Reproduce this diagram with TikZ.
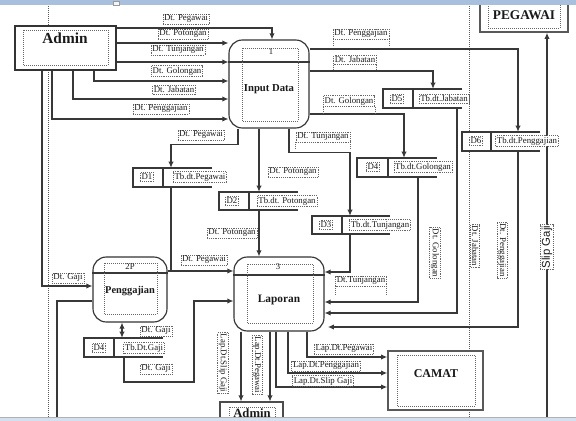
\documentclass[tikz,border=0pt]{standalone}
\usepackage{fontspec}
\setmainfont{Liberation Serif}
\newfontfamily\sansf{Liberation Sans}
\usetikzlibrary{arrows.meta,fit}
\definecolor{rulertop}{RGB}{168,192,222}
\definecolor{rulerbot}{RGB}{212,224,240}
\newcommand\dstore[6]{%
  \node[fit={(#2,#4) (#3,#5)}, inner sep=0pt, fill=white] (#1) {};
  \draw[ln] (#3,#4) -- (#2,#4) -- (#2,#5) -- (#3,#5) (#6,#4) -- (#6,#5);}
\begin{document}
\begin{tikzpicture}[x=0.75pt,y=-0.75pt,
  ln/.style={draw=black!78, line width=0.85pt},
  arr/.style={ln, -{Latex[length=4.5pt,width=4pt]}},
  darr/.style={ln, {Latex[length=4.5pt,width=4pt]}-{Latex[length=4.5pt,width=4pt]}},
  guide/.style={draw=black!65, densely dotted, line width=0.5pt},
  inbox/.style={draw=black!60, densely dotted, line width=0.5pt},
  lab/.style={draw=black!60, densely dotted, line width=0.4pt, fill=white, inner sep=1pt, font=\fontsize{6.6}{7}\selectfont, text=black!90},
  title/.style={inner sep=0pt, text=black!90},
  proc/.style={draw=black!80, line width=0.85pt, fill=white, rounded corners=10pt, inner sep=0pt},
  ent/.style={draw=black!80, line width=0.9pt, fill=white, inner sep=0pt}]
\useasboundingbox (0,0) rectangle (576,421);
\fill[white] (0,0) rectangle (576,421);
% guides
\draw[guide] (48,6) -- (48,417);
\draw[guide] (469,6) -- (469,417);
% entities
\node[ent, fit={(15,26) (116,70)}] (admin) {};
\draw[inbox] (23,30) rectangle (108,65);
\node[title, font=\fontsize{11.5}{12}\bfseries] (adminT) at (65,38) {Admin};
\node[ent, line width=1.2pt, draw=black!65, fit={(480,1) (568,32)}] (peg) {};
\draw[inbox] (488,4) rectangle (560,28);
\node[title, font=\fontsize{10}{11}\bfseries] (pegT) at (524,15) {PEGAWAI};
\node[ent, line width=1.2pt, draw=black!65, fit={(388,351) (483,410)}] (camat) {};
\draw[inbox] (397,355) rectangle (475,406);
\node[title, font=\fontsize{9}{10}\bfseries] (camatT) at (436,374) {CAMAT};
\node[ent, line width=0.8pt, draw=black!70, fit={(220,402) (283,430)}] (admin2) {};
\draw[inbox] (229,407) rectangle (275,430);
\node[title, font=\fontsize{9.5}{10}\bfseries] (admin2T) at (252,413) {Admin};
% processes
\node[proc, fit={(229,40) (309,128)}] (input) {};
\draw[ln] (input.west |- 0,62) -- (input.east |- 0,62);
\draw[inbox] (242,48) rectangle (298,121);
\node[title, font=\fontsize{6.5}{7}\selectfont] (inputN) at (271,52) {1};
\node[title, font=\fontsize{8}{9}\bfseries] (inputT) at (269,89) {Input Data};
\node[proc, fit={(234,257) (324,331)}] (lap) {};
\draw[ln] (lap.west |- 0,275) -- (lap.east |- 0,275);
\draw[inbox] (247,264) rectangle (313,323);
\node[title, font=\fontsize{6.5}{7}\selectfont] (lapN) at (278,267) {3};
\node[title, font=\fontsize{8.5}{9}\bfseries] (lapT) at (279,300) {Laporan};
\node[proc, fit={(93,257) (167,322)}] (pgj) {};
\draw[ln] (pgj.west |- 0,273) -- (pgj.east |- 0,273);
\draw[inbox] (104,263) rectangle (157,314);
\node[title, font=\fontsize{6.5}{7}\selectfont] (pgjN) at (130,267) {2P};
\node[title, font=\fontsize{7.8}{9}\bfseries] (pgjT) at (130,291) {Penggajian};
% data stores
\dstore{d1}{133}{212}{168}{187}{163}
\dstore{d2}{219}{298}{192}{210}{249}
\dstore{d3}{312}{390}{216}{234}{342}
\dstore{d4}{357}{437}{158}{177}{388}
\dstore{d5}{383}{462}{89}{108}{413}
\dstore{d6}{462}{540}{132}{151}{491}
\dstore{d7}{84}{163}{338}{357}{114}
% connectors
\draw[arr] (admin.east |- 0,28) -| (input.north -| 272,0);
\draw[arr] (admin.east |- 0,43) -- (input.west |- 0,43);
\draw[arr] (admin.east |- 0,62) -- (input.west |- 0,62);
\draw[arr] (admin.south -| 94,0) |- (input.west |- 0,81);
\draw[arr] (admin.south -| 73,0) |- (input.west |- 0,99);
\draw[arr] (admin.south -| 52,0) |- (input.west |- 0,119);
\draw[arr] (input.east |- 0,49) -| (d6.north -| 518,0);
\draw[arr] (input.east |- 0,71) -| (d5.north -| 433,0);
\draw[arr] (input.east |- 0,114) -| (d4.north -| 404,0);
\draw[arr] (input.south -| 238,0) -- ++(0,16) -| (d1.north -| 171,0);
\draw[arr] (input.south -| 259,0) -- (d2.north -| 259,0);
\draw[arr] (input.south -| 289,0) -- ++(0,24) -| (d3.north -| 350,0);
\draw[ln] (d1.south -| 171,0) -- (171,271);
\draw[arr] (pgj.east |- 0,271) -- (lap.west |- 0,271);
\draw[arr] (d2.south -| 259,0) -- (lap.north -| 259,0);
\draw[arr] (d3.south -| 350,0) |- (lap.east |- 0,272);
\draw[arr] (d4.south -| 418,0) |- (lap.east |- 0,302);
\draw[arr] (d5.south -| 457,0) |- (lap.east |- 0,313);
\draw[arr, shorten >=2.5pt] (d6.south -| 518,0) |- (lap.east |- 0,327);
\draw[arr] (d7.south -| 124,0) |- (194,382) |- (lap.west |- 0,301);
\draw[arr, line width=1.2pt] (admin.south -| 42,0) |- (pgj.west |- 0,286);
\coordinate (bl) at (57,421);
\draw[ln] (bl) |- (pgj.west |- 0,301);
\draw[darr] (pgj.south -| 122,0) -- (d7.north -| 122,0);
\draw[arr] (lap.south -| 307,0) |- (camat.west |- 0,357);
\draw[arr] (lap.south -| 288,0) |- (camat.west |- 0,373);
\draw[arr] (lap.south -| 276,0) |- (camat.west |- 0,387);
\draw[arr] (lap.south -| 241,0) -- (admin2.north -| 241,0);
\draw[arr] (lap.south -| 270,0) -- (admin2.north -| 270,0);
\coordinate (sg) at (547,421);
\draw[arr] (sg) -- (peg.south -| 547,0);
% store labels
\node[lab] (d1i) at (147,177) {D1};
\node[lab] (d1t) at (200,177) {Tb.dt.Pegawai};
\node[lab] (d2i) at (232,201) {D2};
\node[lab] (d2t) at (287,201) {Tb.dt. Potongan};
\node[lab] (d3i) at (326,225) {D3};
\node[lab] (d3t) at (380,225) {Tb.dt.Tunjangan};
\node[lab] (d4i) at (373,167) {D4};
\node[lab] (d4t) at (423,167) {Tb.dt.Golongan};
\node[lab] (d5i) at (397,99) {D5};
\node[lab] (d5t) at (444,99) {Tb.dt.Jabatan};
\node[lab] (d6i) at (476,141) {D6};
\node[lab] (d6t) at (527,141) {Tb.dt.Penggajian};
\node[lab] (d7i) at (99,348) {D4};
\node[lab] (d7t) at (144,348) {Tb.Dt.Gaji};
% flow labels
\node[lab] (lp1) at (186,19) {Dt. Pegawai};
\node[lab] (lp2) at (183,34) {Dt. Potongan};
\node[lab] (lp3) at (178,50) {Dt. Tunjangan};
\node[lab] (lp4) at (177,71) {Dt. Golongan};
\node[lab] (lp5) at (174,90) {Dt. Jabatan};
\node[lab] (lp6) at (161,109) {Dt. Penggajian};
\node[lab] (lr1) at (361,34) {Dt. Penggajian};
\draw[inbox] (lr1.south west) -- (lr1.south west |- 0,47) (lr1.south east) -- (lr1.south east |- 0,47);
\node[lab] (lr2) at (355,60) {Dt. Jabatan};
\draw[inbox] (lr2.south west) -- (lr2.south west |- 0,70) (lr2.south east) -- (lr2.south east |- 0,70);
\node[lab] (lr3) at (349,101) {Dt. Golongan};
\draw[inbox] (lr3.south west) -- (lr3.south west |- 0,113) (lr3.south east) -- (lr3.south east |- 0,113);
\node[lab] (lm1) at (201,135) {Dt. Pegawai};
\node[lab] (lm2) at (323,137) {Dt. Tunjangan};
\draw[inbox] (lm2.south west) -- (lm2.south west |- 0,150) (lm2.south east) -- (lm2.south east |- 0,150);
\node[lab] (lm3) at (293,172) {Dt. Potongan};
\node[lab] (lm4) at (232,233) {Dt. Potongan};
\node[lab] (lm5) at (204,260) {Dt. Pegawai};
\node[lab] (lm6) at (361,281) {Dt.Tunjangan};
\draw[inbox] (lm6.south west) -- (lm6.south west |- 0,295) (lm6.south east) -- (lm6.south east |- 0,295);
\node[lab, rotate=-90] (lm7) at (435,253) {Dt. Golongan};
\node[lab, rotate=-90] (lm8) at (475,246) {Dt. Jabatan};
\node[lab, rotate=-90] (lm9) at (502,250) {Dt. Penggajian};
\node[lab, rotate=90, font=\sansf\fontsize{8.5}{9}\selectfont] (lm10) at (547,247) {Slip Gaji};
\node[lab] (lb1) at (68,278) {Dt. Gaji};
\node[lab] (lb2) at (156,331) {Dt. Gaji};
\node[lab] (lb3) at (156,369) {Dt. Gaji};
\node[lab] (lb4) at (344,349) {Lap.Dt.Pegawai};
\node[lab] (lb5) at (326,366) {Lap.Dt.Penggajian};
\node[lab] (lb6) at (323,381) {Lap.Dt.Slip Gaji};
\node[lab, rotate=-90] (lb7) at (223,363) {Lap.Dt.Slip Gaji};
\node[lab, rotate=-90] (lb8) at (257,365) {Lap.Dt.Pegawai};
% rulers of the screenshot
\fill[rulertop] (0,0) rectangle (576,5);
\fill[white!85!rulertop, draw=black!40, line width=0.3pt] (113,1) rectangle (119,5);
\fill[rulerbot] (0,417) rectangle (576,421);
\draw[black!30, line width=0.4pt] (0,417) -- (576,417);
\end{tikzpicture}
\end{document}
